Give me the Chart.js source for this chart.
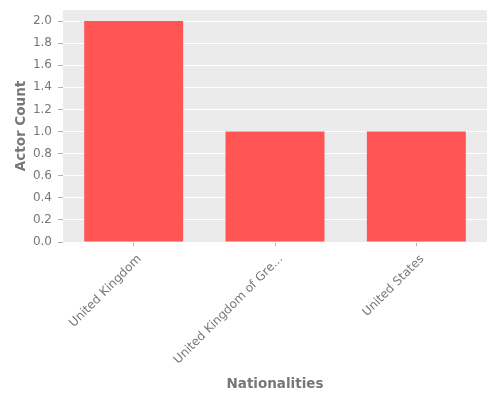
<!DOCTYPE html>
<html>
<head>
<meta charset="utf-8">
<script src="https://cdn.jsdelivr.net/npm/chart.js@4/dist/chart.umd.min.js"></script>
<style>
  html, body { margin: 0; padding: 0; background: #fff; }
  #wrap { width: 500px; height: 400px; }
</style>
</head>
<body>
<div id="wrap"><canvas id="myChart" width="500" height="400"></canvas></div>
<script>
  // chart data
  var nationalities = ['United Kingdom', 'United Kingdom of Gre...', 'United States'];
  var actorCounts = [2, 1, 1];
  var yMax = 2.1;
  var yStep = 0.2;

  var tickColor = '#777777';
  var panelColor = '#EBEBEB';

  // grey ggplot-like panel behind the plot area
  var panelBg = {
    id: 'panelBg',
    beforeDraw: function (chart) {
      var a = chart.chartArea;
      var ctx = chart.ctx;
      ctx.save();
      ctx.fillStyle = panelColor;
      ctx.fillRect(a.left, a.top, a.right - a.left, a.bottom - a.top);
      ctx.restore();
    }
  };

  var ctx = document.getElementById('myChart').getContext('2d');
  new Chart(ctx, {
    type: 'bar',
    data: {
      labels: nationalities,
      datasets: [{
        label: 'Actor Count',
        data: actorCounts,
        backgroundColor: '#FF5555',
        borderWidth: 0,
        categoryPercentage: 1.0,
        barPercentage: 0.7
      }]
    },
    plugins: [panelBg],
    options: {
      responsive: false,
      animation: false,
      layout: { padding: { left: 0, right: 13, top: 10, bottom: 0 } },
      plugins: {
        legend: { display: false },
        tooltip: { enabled: false }
      },
      scales: {
        x: {
          grid: {
            offset: false,
            drawOnChartArea: false,
            tickColor: '#999999',
            tickLength: 4,
            tickWidth: 0.8
          },
          border: { display: false },
          ticks: {
            color: tickColor,
            font: { family: 'DejaVu Sans', size: 12 },
            minRotation: 45,
            maxRotation: 45,
            autoSkip: false,
            labelOffset: 6,
            padding: 6
          },
          title: {
            display: true,
            text: 'Nationalities',
            color: tickColor,
            font: { family: 'DejaVu Sans', size: 13.5, weight: 'bold' },
            padding: { top: 4, bottom: 7 }
          },
          afterFit: function (scale) {
            scale.height = 158;
            scale.paddingLeft = 0;
            scale.paddingRight = 0;
          }
        },
        y: {
          min: 0,
          max: yMax,
          grid: {
            color: '#FFFFFF',
            lineWidth: 1,
            tickColor: '#999999',
            tickLength: 5,
            tickWidth: 0.8
          },
          border: { display: false },
          ticks: {
            stepSize: yStep,
            includeBounds: false,
            color: tickColor,
            font: { family: 'DejaVu Sans', size: 12 },
            padding: 6,
            callback: function (v) { return Number(v).toFixed(1); }
          },
          title: {
            display: true,
            text: 'Actor Count',
            color: tickColor,
            font: { family: 'DejaVu Sans', size: 13.5, weight: 'bold' },
            padding: { top: 13, bottom: 4 }
          },
          afterFit: function (scale) {
            scale.width = 63;
            scale.paddingTop = 0;
            scale.paddingBottom = 0;
          }
        }
      }
    }
  });
</script>
</body>
</html>
